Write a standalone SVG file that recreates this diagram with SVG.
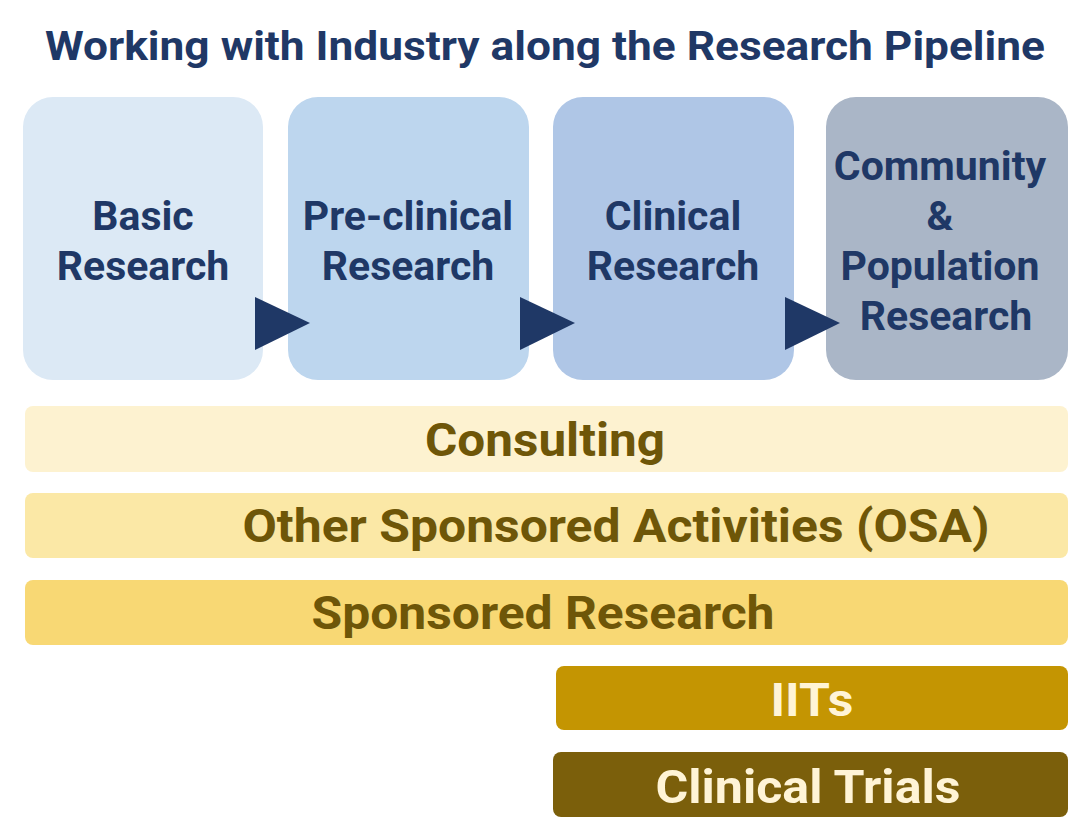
<svg xmlns="http://www.w3.org/2000/svg" width="1090" height="834" viewBox="0 0 1090 834">
<style>
.title{font-family:Roboto,"Liberation Sans",sans-serif;font-weight:bold;font-size:40px;fill:#1f3866;text-anchor:middle}
.bt{font-family:Roboto,"Liberation Sans",sans-serif;font-weight:bold;font-size:41px;fill:#1f3866;text-anchor:middle}
.bar{font-family:Roboto,"Liberation Sans",sans-serif;font-weight:bold;font-size:46px;text-anchor:middle}
.dk{fill:#6e5608}
.lt{fill:#fff4d6}
.arrow{fill:#1f3866}
</style>
<rect width="1090" height="834" fill="#ffffff"/>
<text class="title" x="545" y="60" textLength="1000" lengthAdjust="spacingAndGlyphs">Working with Industry along the Research Pipeline</text>
<g id="basic">
<rect x="23" y="97" width="240" height="283" rx="30" fill="#dce9f5"/>
<text class="bt" x="143" y="230">Basic</text>
<text class="bt" x="143" y="280">Research</text>
</g>
<g id="preclinical">
<rect x="288" y="97" width="241" height="283" rx="30" fill="#bdd6ee"/>
<text class="bt" x="408" y="230">Pre-clinical</text>
<text class="bt" x="408" y="280">Research</text>
</g>
<g id="clinical">
<rect x="553" y="97" width="241" height="283" rx="30" fill="#afc6e6"/>
<text class="bt" x="673" y="230">Clinical</text>
<text class="bt" x="673" y="280">Research</text>
</g>
<g id="community">
<rect x="826" y="97" width="242" height="283" rx="30" fill="#aab6c7"/>
<text class="bt" x="940" y="180">Community</text>
<text class="bt" x="940" y="230">&amp;</text>
<text class="bt" x="940" y="280">Population</text>
<text class="bt" x="946" y="330">Research</text>
</g>
<g id="connectors">
<polygon class="arrow" points="255,297 310,323 255,350"/>
<polygon class="arrow" points="520,297 575,323 520,350"/>
<polygon class="arrow" points="785,297 840,323 785,350"/>
</g>
<g id="consulting">
<rect x="25" y="406" width="1043" height="66" rx="8" fill="#fdf2d0"/>
<text class="bar dk" x="545" y="456" textLength="240" lengthAdjust="spacingAndGlyphs">Consulting</text>
</g>
<g id="osa">
<rect x="25" y="493" width="1043" height="65" rx="8" fill="#fbe8a6"/>
<text class="bar dk" x="616" y="542" textLength="747" lengthAdjust="spacingAndGlyphs">Other Sponsored Activities (OSA)</text>
</g>
<g id="sponsored">
<rect x="25" y="580" width="1043" height="65" rx="8" fill="#f8d874"/>
<text class="bar dk" x="543" y="629" textLength="463" lengthAdjust="spacingAndGlyphs">Sponsored Research</text>
</g>
<g id="iits">
<rect x="556" y="666" width="512" height="64" rx="8" fill="#c49502"/>
<text class="bar lt" x="812" y="716" textLength="83" lengthAdjust="spacingAndGlyphs">IITs</text>
</g>
<g id="trials">
<rect x="553" y="752" width="515" height="65" rx="8" fill="#7b5f0b"/>
<text class="bar lt" x="808" y="803" textLength="305" lengthAdjust="spacingAndGlyphs">Clinical Trials</text>
</g>
</svg>
